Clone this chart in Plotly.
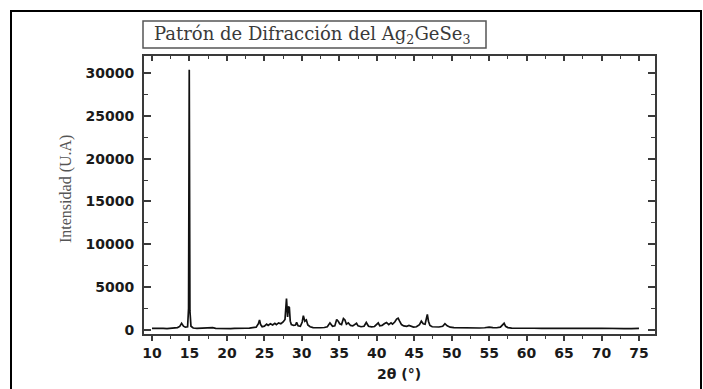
import plotly.graph_objects as go

two_theta = [
    10.0, 10.5, 11.0, 11.5, 12.0, 12.5, 13.0, 13.4, 13.7, 13.95, 14.2, 14.45,
    14.75, 14.88, 14.97, 15.06, 15.2, 15.5, 16.0, 16.5, 17.0, 17.5, 17.8, 18.1,
    18.5, 19.0, 19.5, 20.0, 20.5, 21.0, 21.5, 22.0, 22.5, 23.0, 23.5, 23.9,
    24.2, 24.35, 24.5, 24.7, 25.0, 25.3, 25.5, 25.8, 26.1, 26.4, 26.6, 26.9,
    27.2, 27.5, 27.75, 27.95, 28.1, 28.2, 28.33, 28.45, 28.6, 28.9, 29.15, 29.3,
    29.5, 29.8, 30.05, 30.2, 30.4, 30.6, 30.8, 31.1, 31.5, 32.0, 32.5, 33.0,
    33.4, 33.75, 34.1, 34.4, 34.65, 34.85, 35.05, 35.3, 35.55, 35.75, 35.95, 36.2,
    36.5, 36.8, 37.1, 37.3, 37.5, 37.9, 38.3, 38.6, 38.9, 39.3, 39.7, 40.0,
    40.2, 40.4, 40.7, 41.0, 41.3, 41.6, 41.9, 42.1, 42.4, 42.65, 42.85, 43.05,
    43.3, 43.6, 44.0, 44.3, 44.6, 44.9, 45.3, 45.7, 45.95, 46.2, 46.45, 46.6,
    46.75, 46.9, 47.1, 47.4, 47.8, 48.3, 48.8, 49.1, 49.4, 49.8, 50.3, 51.0,
    51.7, 52.4, 53.0, 53.7, 54.4, 55.0, 55.5, 56.0, 56.5, 56.8, 57.0, 57.2,
    57.5, 58.0, 58.7, 59.5, 60.3, 61.0, 62.0, 63.0, 64.0, 65.0, 66.0, 67.0,
    68.0, 69.0, 70.0, 71.0, 72.0, 73.0, 74.0, 75.0,
]

intensity = [
    150, 170, 140, 160, 130, 170, 180, 250, 380, 750, 420, 300,
    350, 2500, 30400, 2200, 400, 200, 150, 170, 180, 260, 200, 240,
    160, 140, 150, 130, 140, 150, 130, 160, 170, 190, 230, 300,
    700, 1150, 600, 350, 420, 650, 500, 700, 550, 750, 600, 800,
    700, 900, 1200, 3650, 1500, 2700, 2600, 1000, 600, 500, 550, 850,
    450, 400, 900, 1650, 1000, 1150, 550, 350, 250, 220, 230, 260,
    350, 800, 400, 450, 1200, 1000, 700, 600, 1300, 1150, 650, 800,
    500, 450, 650, 750, 450, 350, 400, 850, 400, 330, 380, 600,
    800, 450, 500, 700, 850, 600, 800, 650, 900, 1250, 1350, 1000,
    600, 450, 400, 500, 350, 300, 350, 600, 1000, 700, 650, 1100,
    1800, 1000, 500, 350, 300, 320, 400, 700, 450, 300, 250, 230,
    220, 240, 220, 200, 230, 300, 250, 230, 300, 550, 750, 400,
    250, 180, 160, 170, 150, 170, 160, 130, 150, 160, 140, 130,
    120, 150, 170, 140, 130, 120, 140, 150,
]

x_ticks = [10, 15, 20, 25, 30, 35, 40, 45, 50, 55, 60, 65, 70, 75]
y_ticks = [0, 5000, 10000, 15000, 20000, 25000, 30000]
y_tick_labels = ["0", "5000", "10000", "15000", "20000", "25000", "30000"]

title_text = "Patrón de Difracción del Ag<sub>2</sub>GeSe<sub>3</sub>"
y_title = "Intensidad (U.A)"
x_title = "2θ (°)"

W, H = 703, 389
L, R, T, B = 144, 655, 56, 334
pw, ph = R - L, B - T


def px(xp):
    return (xp - L) / pw


def py(yp):
    return (B - yp) / ph


fig = go.Figure()
fig.add_trace(go.Scatter(x=two_theta, y=intensity, mode="lines",
                         line=dict(color="#111111", width=1.7),
                         hoverinfo="skip", showlegend=False))
fig.add_trace(go.Scatter(x=two_theta, y=intensity, mode="lines", xaxis="x2",
                         line=dict(color="rgba(0,0,0,0)", width=0),
                         hoverinfo="skip", showlegend=False))

axis_color = "#3a3a3a"
tick_font = dict(family="DejaVu Sans", size=14, color="#1a1a1a", weight="bold")

fig.update_layout(
    width=W, height=H,
    margin=dict(l=L, r=W - R, t=T, b=H - B, pad=0),
    paper_bgcolor="white", plot_bgcolor="white",
    xaxis=dict(range=[8.93, 77.14], tickvals=x_ticks, ticks="outside",
               ticklen=5, tickwidth=1.5, tickcolor=axis_color,
               showline=True, linecolor=axis_color, linewidth=2,
               showgrid=False, zeroline=False, tickfont=tick_font,
               minor=dict(dtick=2.5, tick0=10, ticks="outside", ticklen=3,
                          tickwidth=1.2, tickcolor=axis_color)),
    xaxis2=dict(range=[8.93, 77.14], overlaying="x", side="top",
                tickvals=x_ticks, ticks="inside", ticklen=5, tickwidth=1.5,
                tickcolor=axis_color, showticklabels=False,
                showline=True, linecolor=axis_color, linewidth=2,
                showgrid=False, zeroline=False,
                minor=dict(dtick=2.5, tick0=10, ticks="inside", ticklen=3,
                           tickwidth=1.2, tickcolor=axis_color)),
    yaxis=dict(range=[-500, 32000], tickvals=y_ticks, ticktext=y_tick_labels,
               ticks="inside", ticklen=7, tickwidth=1.5, tickcolor=axis_color,
               showline=True, linecolor=axis_color, linewidth=2,
               mirror="ticks", showgrid=False, zeroline=False,
               tickfont=tick_font, ticklabelstandoff=5,
               minor=dict(dtick=2500, tick0=0, ticks="inside", ticklen=4,
                          tickwidth=1.2, tickcolor=axis_color)),
    shapes=[
        dict(type="rect", xref="paper", yref="paper",
             x0=px(11), x1=px(701), y0=py(420), y1=py(11),
             line=dict(color="black", width=2), fillcolor="rgba(0,0,0,0)",
             layer="above"),
        dict(type="rect", xref="paper", yref="paper",
             x0=px(143), x1=px(486), y0=py(48), y1=py(21),
             line=dict(color="#555555", width=1.5), fillcolor="rgba(0,0,0,0)",
             layer="above"),
    ],
    annotations=[
        dict(text=title_text, xref="paper", yref="paper", x=px(152), y=py(35),
             xanchor="left", yanchor="middle", showarrow=False,
             font=dict(family="DejaVu Serif", size=18, color="#3a3a3a")),
        dict(text=y_title, xref="paper", yref="paper", x=px(66), y=py(189),
             xanchor="center", yanchor="middle", showarrow=False, textangle=-90,
             font=dict(family="Liberation Serif", size=16, color="#555555")),
        dict(text=x_title, xref="paper", yref="paper", x=px(399), y=py(374),
             xanchor="center", yanchor="middle", showarrow=False,
             font=dict(family="DejaVu Sans", size=14, color="#1a1a1a",
                       weight="bold")),
    ],
)

fig.write_html("out.html")
